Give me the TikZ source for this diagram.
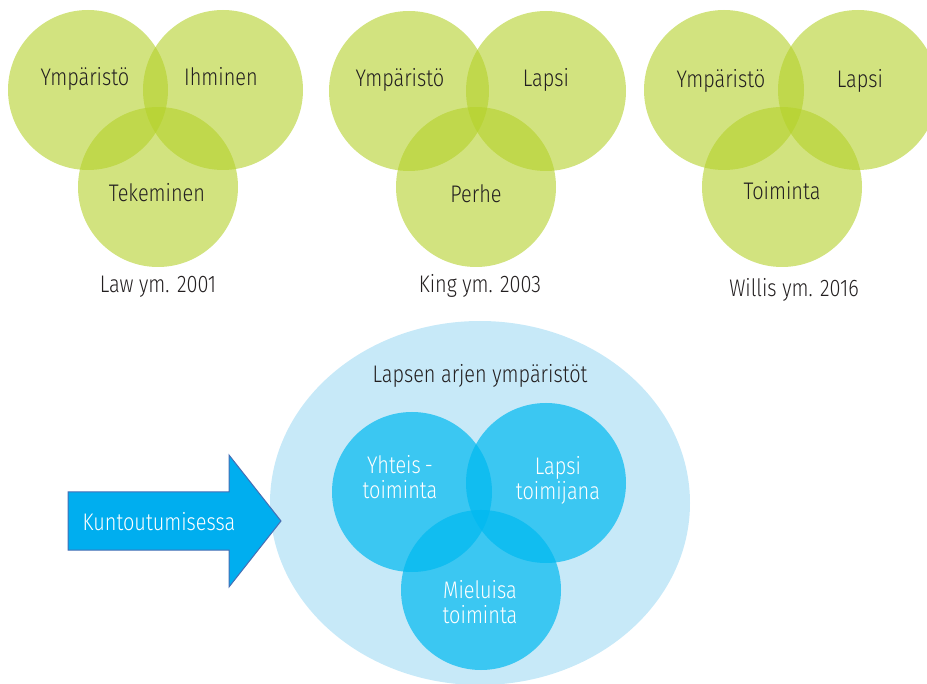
\documentclass[tikz,border=0pt]{standalone}
\usepackage{fontspec}
\setmainfont{Fira Sans Light}[FakeStretch=0.83]
\usepackage{tikz}
\usetikzlibrary{shapes.geometric}

\definecolor{vgreen}{RGB}{180,209,42}
\definecolor{vblue}{RGB}{0,185,240}
\definecolor{paleblue}{RGB}{199,233,248}
\definecolor{arrowblue}{RGB}{0,174,239}
\definecolor{arrowline}{RGB}{70,110,180}
\definecolor{ink}{RGB}{35,31,32}

\begin{document}
\begin{tikzpicture}[x=1pt,y=-1pt,
  gcirc/.style={circle,fill=vgreen,fill opacity=0.6,minimum size=160pt,inner sep=0pt},
  bcirc/.style={circle,fill=vblue,fill opacity=0.7,minimum size=160pt,inner sep=0pt},
  lbl/.style={anchor=base,inner sep=0pt,text=ink,font=\fontsize{24}{25}\selectfont},
  wlbl/.style={anchor=base,inner sep=0pt,text=white,align=center,font=\fontsize{24}{25}\selectfont}]
  \useasboundingbox (0,0) rectangle (927,684);

  \node[gcirc] (l1) at (88,90) {};
  \node[gcirc] (r1) at (223,90) {};
  \node[gcirc] (b1) at (158,187) {};
  \node[lbl] (tl1) at (85,86) {Ympäristö};
  \node[lbl] (tr1) at (221,86) {Ihminen};
  \node[lbl] (tb1) at (157,202) {Tekeminen};
  \node[lbl] (c1) at (158,293) {Law ym. 2001};

  \node[gcirc] (l2) at (409,91) {};
  \node[gcirc] (r2) at (546,91) {};
  \node[gcirc] (b2) at (476,187) {};
  \node[lbl] (tl2) at (400,87) {Ympäristö};
  \node[lbl] (tr2) at (546,87) {Lapsi};
  \node[lbl] (tb2) at (476,203) {Perhe};
  \node[lbl] (c2) at (480,293) {King ym. 2003};

  \node[gcirc] (l3) at (724,90) {};
  \node[gcirc] (r3) at (858,90) {};
  \node[gcirc] (b3) at (782,187) {};
  \node[lbl] (tl3) at (721,88) {Ympäristö};
  \node[lbl] (tr3) at (860,88) {Lapsi};
  \node[lbl] (tb3) at (782,200) {Toiminta};
  \node[lbl] (c3) at (794,297) {Willis ym. 2016};

  \node[ellipse,fill=paleblue,minimum width=420pt,minimum height=364pt,inner sep=0pt] (arki) at (480,503) {};
  \node[lbl] (otsikko) at (480,383) {Lapsen arjen ympäristöt};
  \node[bcirc] (yht) at (412,492) {};
  \node[bcirc] (lap) at (546,483) {};
  \node[bcirc] (mie) at (481,590) {};
  \node[wlbl] (tyht) at (400,499) {Yhteis\,-\\toiminta};
  \node[wlbl] (tlap) at (558,500) {Lapsi\\toimijana};
  \node[wlbl] (tmie) at (480,623) {Mieluisa\\toiminta};

  \draw[fill=arrowblue,draw=arrowline,line width=1pt,line join=miter]
    (68,492) -- (229,492) -- (229,455) -- (281,521) -- (229,587) -- (229,550) -- (68,550) -- cycle;
  \node[wlbl] (kunt) at (159,530) {Kuntoutumisessa};
\end{tikzpicture}
\end{document}
